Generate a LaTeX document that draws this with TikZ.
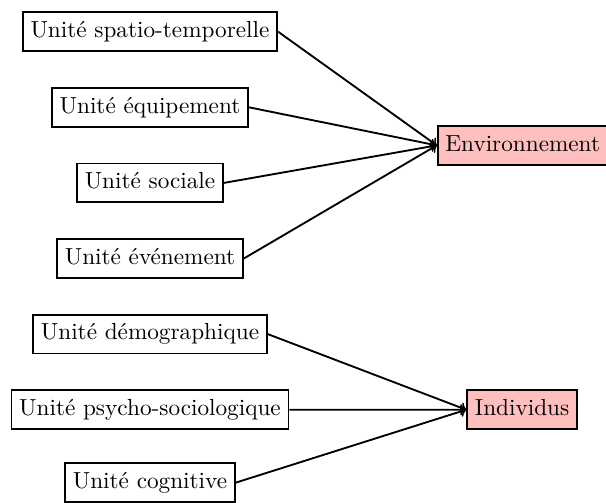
\documentclass[tikz,border=0pt]{standalone}
\usetikzlibrary{positioning}

\begin{document}
\begin{tikzpicture}[->, font=\normalsize, unit/.style={draw, rectangle, thick, text height=0.75em, text depth=0.25em}, target/.style={unit, fill=red!25}]

\useasboundingbox (-2.27cm,0.48cm) rectangle (6.90cm,-7.13cm);

\node[unit] (U0) at (0,0) {Unité spatio-temporelle};
\node[unit, below=0.53cm of U0] (U1) {Unité équipement};
\node[unit, below=0.53cm of U1] (U2) {Unité sociale};
\node[unit, below=0.53cm of U2] (U3) {Unité événement};

\node[unit, below=0.53cm of U3] (U4) {Unité démographique};
\node[unit, below=0.53cm of U4] (U5) {Unité psycho-sociologique};
\node[unit, below=0.49cm of U5] (U6) {Unité cognitive};

\node[target] (ENV) at (5.64cm,-1.72cm) {Environnement};
\node[target] (IND) at (5.63cm,-5.72cm) {Individus};

\draw[thick] (U0.east) -- (ENV.west);
\draw[thick] (U1.east) -- (ENV.west);
\draw[thick] (U2.east) -- (ENV.west);
\draw[thick] (U3.east) -- (ENV.west);

\draw[thick] (U4.east) -- (IND.west);
\draw[thick] (U5.east) -- (IND.west);
\draw[thick] (U6.east) -- (IND.west);

\end{tikzpicture}
\end{document}
